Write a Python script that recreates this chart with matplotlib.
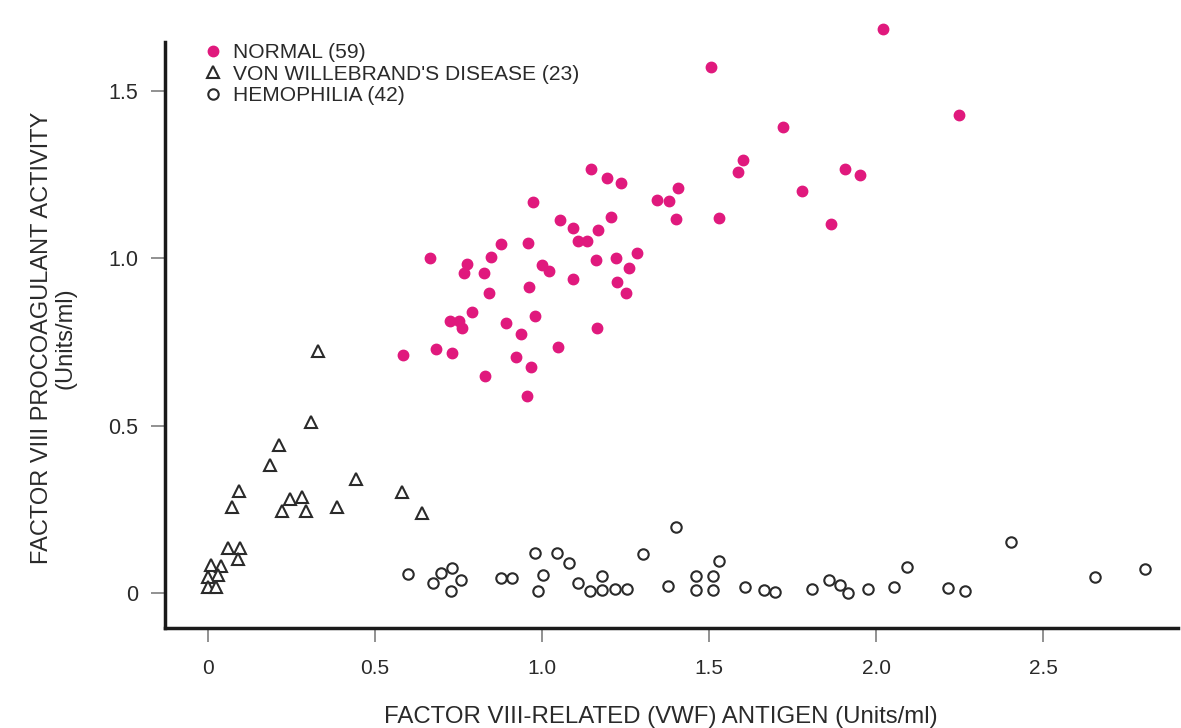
import matplotlib
matplotlib.use("Agg")
import matplotlib.pyplot as plt
from matplotlib.lines import Line2D

# FACTOR VIII antigen (x) vs procoagulant activity (y), Units/ml
normal_x = [1.146, 1.194, 1.237, 1.406, 1.345, 1.380, 1.401, 0.974, 1.054, 1.092,
            1.166, 1.207, 1.107, 1.134, 0.878, 0.957, 0.663, 0.776, 0.766, 0.846,
            0.827, 0.999, 1.022, 1.162, 1.222, 1.285, 1.260, 1.094, 1.224, 1.252,
            0.840, 0.960, 0.791, 0.725, 0.751, 0.760, 0.892, 0.979, 0.938, 1.165,
            1.049, 0.683, 0.730, 0.585, 0.921, 0.968, 0.829, 0.955, 2.022, 1.506,
            2.249, 1.722, 1.603, 1.586, 1.907, 1.952, 1.778, 1.530, 1.864]
normal_y = [1.265, 1.238, 1.223, 1.208, 1.173, 1.170, 1.116, 1.166, 1.113, 1.089,
            1.084, 1.123, 1.051, 1.051, 1.042, 1.044, 1.001, 0.982, 0.954, 1.003,
            0.954, 0.979, 0.962, 0.994, 0.999, 1.014, 0.969, 0.937, 0.929, 0.895,
            0.895, 0.914, 0.840, 0.813, 0.813, 0.790, 0.807, 0.827, 0.772, 0.790,
            0.735, 0.728, 0.717, 0.710, 0.704, 0.674, 0.648, 0.589, 1.684, 1.571,
            1.426, 1.391, 1.293, 1.258, 1.266, 1.248, 1.201, 1.121, 1.101]

vwd_x = [0.329, 0.307, 0.213, 0.185, 0.442, 0.094, 0.073, 0.246, 0.282, 0.222,
         0.293, 0.385, 0.061, 0.097, 0.089, 0.009, 0.038, 0.031, 0.0, 0.0,
         0.023, 0.580, 0.640]
vwd_y = [0.723, 0.510, 0.442, 0.382, 0.340, 0.304, 0.258, 0.281, 0.287, 0.245,
         0.245, 0.256, 0.135, 0.135, 0.101, 0.084, 0.081, 0.054, 0.047, 0.019,
         0.019, 0.302, 0.238]

hemo_x = [0.600, 0.673, 0.697, 0.731, 0.757, 0.728, 0.877, 0.909, 0.979, 1.004,
          0.987, 1.046, 1.081, 1.109, 1.142, 1.179, 1.180, 1.219, 1.255, 1.303,
          1.400, 1.378, 1.461, 1.460, 1.513, 1.511, 1.531, 1.608, 1.665, 1.696,
          1.807, 1.860, 1.892, 1.917, 1.977, 2.055, 2.094, 2.216, 2.266, 2.403,
          2.656, 2.805]
hemo_y = [0.056, 0.029, 0.059, 0.076, 0.039, 0.006, 0.044, 0.044, 0.120, 0.054,
          0.006, 0.119, 0.089, 0.031, 0.007, 0.051, 0.009, 0.011, 0.011, 0.116,
          0.198, 0.021, 0.051, 0.009, 0.051, 0.009, 0.096, 0.017, 0.009, 0.004,
          0.011, 0.039, 0.024, 0.001, 0.012, 0.018, 0.079, 0.016, 0.007, 0.153,
          0.049, 0.072]

labels = ["NORMAL (59)", "VON WILLEBRAND'S DISEASE (23)", "HEMOPHILIA (42)"]
xticks = [0, 0.5, 1.0, 1.5, 2.0, 2.5]
xtick_labels = ["0", "0.5", "1.0", "1.5", "2.0", "2.5"]
yticks = [0, 0.5, 1.0, 1.5]
ytick_labels = ["0", "0.5", "1.0", "1.5"]

pink = "#e0197d"
ink = "#2a2a2a"

plt.rcParams["font.family"] = ["Liberation Sans", "DejaVu Sans"]

fig = plt.figure(figsize=(11.81, 7.28), dpi=100)
ax = fig.add_axes([165 / 1181, 1 - 628 / 728, 1013 / 1181, 586 / 728])

ax.plot(normal_x, normal_y, "o", ms=7.5, color=pink, mec=pink, clip_on=False)
ax.plot(vwd_x, vwd_y, "^", ms=9, mfc="white", mec=ink, mew=1.5, clip_on=False)
ax.plot(hemo_x, hemo_y, "o", ms=7.5, mfc="white", mec=ink, mew=1.5, clip_on=False)

ax.set_xlim(-0.129, 2.904)
ax.set_ylim(-0.1045, 1.645)

for s in ["top", "right"]:
    ax.spines[s].set_visible(False)
for s in ["left", "bottom"]:
    ax.spines[s].set_linewidth(2.5)
    ax.spines[s].set_color("#1a1a1a")

ax.set_xticks(xticks)
ax.set_xticklabels(xtick_labels)
ax.set_yticks(yticks)
ax.set_yticklabels(ytick_labels)
ax.tick_params(axis="x", length=10, width=1.3, color="#888888", pad=12,
               labelsize=15, labelcolor=ink)
ax.tick_params(axis="y", length=10, width=1.3, color="#888888", pad=9,
               labelsize=15.5, labelcolor=ink)

ax.set_ylabel("FACTOR VIII PROCOAGULANT ACTIVITY\n(Units/ml)", fontsize=17,
              color=ink, linespacing=1.1)
ax.yaxis.set_label_coords((77 - 165) / 1013, (628 - 338) / 586)
fig.text(661 / 1181, 1 - 717 / 728, "FACTOR VIII-RELATED (VWF) ANTIGEN (Units/ml)",
         ha="center", va="center", fontsize=17.3, color=ink)

handles = [
    Line2D([], [], ls="none", marker="o", ms=7.5, color=pink),
    Line2D([], [], ls="none", marker="^", ms=9, mfc="white", mec=ink, mew=1.5),
    Line2D([], [], ls="none", marker="o", ms=7.5, mfc="white", mec=ink, mew=1.5),
]
leg = fig.legend(handles, labels, loc="upper left",
                 bbox_to_anchor=(203 / 1181, 1 - 43 / 728), frameon=False,
                 fontsize=15.1, handlelength=1.0, handletextpad=0.45,
                 labelspacing=0.12, borderpad=0, borderaxespad=0)
for t in leg.get_texts():
    t.set_color(ink)

fig.savefig("out.png", dpi=100)
